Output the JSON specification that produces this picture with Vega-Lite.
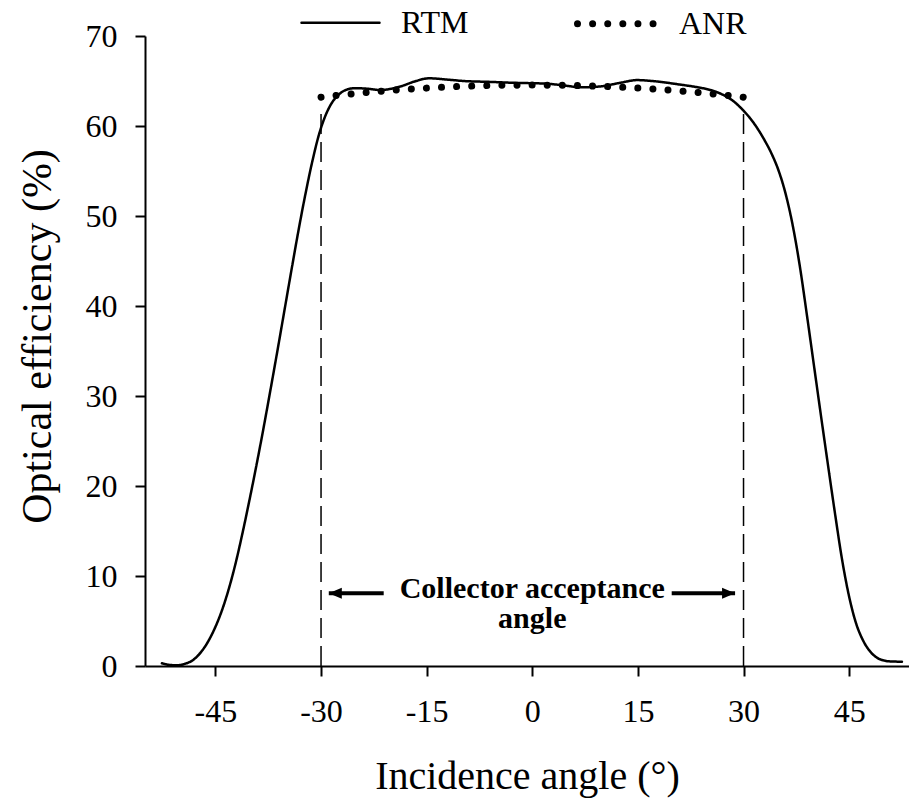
{
  "$schema": "https://vega.github.io/schema/vega-lite/v6.json",
  "width": 764,
  "height": 630,
  "autosize": {"type": "none"},
  "padding": {"left": 145, "top": 36, "right": 0, "bottom": 143},
  "background": "white",
  "config": {
    "view": {"stroke": null},
    "font": "Liberation Serif",
    "axis": {
      "domainColor": "black",
      "domainWidth": 2,
      "tickColor": "black",
      "tickWidth": 2,
      "tickSize": 10,
      "grid": false,
      "labelFont": "Liberation Serif",
      "labelFontSize": 32,
      "labelColor": "black",
      "titleFont": "Liberation Serif",
      "titleFontSize": 40,
      "titleFontWeight": "normal",
      "titleColor": "black"
    },
    "legend": {
      "labelFont": "Liberation Serif",
      "labelFontSize": 32,
      "labelColor": "black"
    }
  },
  "datasets": {
    "curves": [
      {"series": "RTM", "angle": -52.6, "efficiency": 0.3},
      {"series": "RTM", "angle": -51.5, "efficiency": 0.12},
      {"series": "RTM", "angle": -50.4, "efficiency": 0.08},
      {"series": "RTM", "angle": -49.3, "efficiency": 0.25},
      {"series": "RTM", "angle": -48.2, "efficiency": 0.65},
      {"series": "RTM", "angle": -47.2, "efficiency": 1.4},
      {"series": "RTM", "angle": -46.2, "efficiency": 2.5},
      {"series": "RTM", "angle": -45.2, "efficiency": 4.0},
      {"series": "RTM", "angle": -44.2, "efficiency": 5.9},
      {"series": "RTM", "angle": -43.2, "efficiency": 8.3},
      {"series": "RTM", "angle": -42.2, "efficiency": 11.2},
      {"series": "RTM", "angle": -41.2, "efficiency": 14.6},
      {"series": "RTM", "angle": -40.2, "efficiency": 18.3},
      {"series": "RTM", "angle": -39.2, "efficiency": 22.2},
      {"series": "RTM", "angle": -38.2, "efficiency": 26.3},
      {"series": "RTM", "angle": -37.2, "efficiency": 30.6},
      {"series": "RTM", "angle": -36.2, "efficiency": 35.0},
      {"series": "RTM", "angle": -35.2, "efficiency": 39.5},
      {"series": "RTM", "angle": -34.2, "efficiency": 44.0},
      {"series": "RTM", "angle": -33.2, "efficiency": 48.4},
      {"series": "RTM", "angle": -32.2, "efficiency": 52.5},
      {"series": "RTM", "angle": -31.2, "efficiency": 56.2},
      {"series": "RTM", "angle": -30.2, "efficiency": 59.3},
      {"series": "RTM", "angle": -29.4, "efficiency": 61.1},
      {"series": "RTM", "angle": -28.6, "efficiency": 62.4},
      {"series": "RTM", "angle": -27.6, "efficiency": 63.4},
      {"series": "RTM", "angle": -26.5, "efficiency": 64.0},
      {"series": "RTM", "angle": -25.2, "efficiency": 64.2},
      {"series": "RTM", "angle": -23.5, "efficiency": 64.15},
      {"series": "RTM", "angle": -21.6, "efficiency": 64.0},
      {"series": "RTM", "angle": -18.7, "efficiency": 64.4},
      {"series": "RTM", "angle": -16.5, "efficiency": 65.0},
      {"series": "RTM", "angle": -14.7, "efficiency": 65.3},
      {"series": "RTM", "angle": -12.0, "efficiency": 65.15},
      {"series": "RTM", "angle": -9.75, "efficiency": 65.0},
      {"series": "RTM", "angle": -6.0, "efficiency": 64.9},
      {"series": "RTM", "angle": -2.65, "efficiency": 64.8},
      {"series": "RTM", "angle": 2.1, "efficiency": 64.7},
      {"series": "RTM", "angle": 5.0, "efficiency": 64.45},
      {"series": "RTM", "angle": 6.8, "efficiency": 64.3},
      {"series": "RTM", "angle": 9.7, "efficiency": 64.4},
      {"series": "RTM", "angle": 12.5, "efficiency": 64.8},
      {"series": "RTM", "angle": 14.9, "efficiency": 65.1},
      {"series": "RTM", "angle": 17.0, "efficiency": 65.0},
      {"series": "RTM", "angle": 21.0, "efficiency": 64.6},
      {"series": "RTM", "angle": 23.5, "efficiency": 64.3},
      {"series": "RTM", "angle": 25.3, "efficiency": 64.0},
      {"series": "RTM", "angle": 27.0, "efficiency": 63.5},
      {"series": "RTM", "angle": 28.5, "efficiency": 62.8},
      {"series": "RTM", "angle": 30.0, "efficiency": 61.7},
      {"series": "RTM", "angle": 31.0, "efficiency": 60.8},
      {"series": "RTM", "angle": 32.0, "efficiency": 59.7},
      {"series": "RTM", "angle": 33.0, "efficiency": 58.4},
      {"series": "RTM", "angle": 34.0, "efficiency": 56.9},
      {"series": "RTM", "angle": 35.0, "efficiency": 55.0},
      {"series": "RTM", "angle": 36.0, "efficiency": 52.4},
      {"series": "RTM", "angle": 37.0, "efficiency": 48.9},
      {"series": "RTM", "angle": 38.0, "efficiency": 44.4},
      {"series": "RTM", "angle": 39.0, "efficiency": 39.0},
      {"series": "RTM", "angle": 40.0, "efficiency": 33.4},
      {"series": "RTM", "angle": 41.0, "efficiency": 27.8},
      {"series": "RTM", "angle": 42.0, "efficiency": 22.3},
      {"series": "RTM", "angle": 43.0, "efficiency": 16.9},
      {"series": "RTM", "angle": 44.0, "efficiency": 11.8},
      {"series": "RTM", "angle": 45.0, "efficiency": 7.7},
      {"series": "RTM", "angle": 46.0, "efficiency": 4.7},
      {"series": "RTM", "angle": 47.0, "efficiency": 2.8},
      {"series": "RTM", "angle": 48.0, "efficiency": 1.6},
      {"series": "RTM", "angle": 49.0, "efficiency": 0.9},
      {"series": "RTM", "angle": 50.0, "efficiency": 0.6},
      {"series": "RTM", "angle": 51.0, "efficiency": 0.5},
      {"series": "RTM", "angle": 52.5, "efficiency": 0.48},
      {"series": "ANR", "angle": -30.0, "efficiency": 63.2},
      {"series": "ANR", "angle": -27.86, "efficiency": 63.39},
      {"series": "ANR", "angle": -25.71, "efficiency": 63.56},
      {"series": "ANR", "angle": -23.57, "efficiency": 63.72},
      {"series": "ANR", "angle": -21.43, "efficiency": 63.86},
      {"series": "ANR", "angle": -19.29, "efficiency": 63.99},
      {"series": "ANR", "angle": -17.14, "efficiency": 64.11},
      {"series": "ANR", "angle": -15.0, "efficiency": 64.21},
      {"series": "ANR", "angle": -12.86, "efficiency": 64.3},
      {"series": "ANR", "angle": -10.71, "efficiency": 64.38},
      {"series": "ANR", "angle": -8.57, "efficiency": 64.44},
      {"series": "ANR", "angle": -6.43, "efficiency": 64.49},
      {"series": "ANR", "angle": -4.29, "efficiency": 64.52},
      {"series": "ANR", "angle": -2.14, "efficiency": 64.54},
      {"series": "ANR", "angle": 0.0, "efficiency": 64.55},
      {"series": "ANR", "angle": 2.14, "efficiency": 64.54},
      {"series": "ANR", "angle": 4.29, "efficiency": 64.52},
      {"series": "ANR", "angle": 6.43, "efficiency": 64.49},
      {"series": "ANR", "angle": 8.57, "efficiency": 64.44},
      {"series": "ANR", "angle": 10.71, "efficiency": 64.38},
      {"series": "ANR", "angle": 12.86, "efficiency": 64.3},
      {"series": "ANR", "angle": 15.0, "efficiency": 64.21},
      {"series": "ANR", "angle": 17.14, "efficiency": 64.11},
      {"series": "ANR", "angle": 19.29, "efficiency": 63.99},
      {"series": "ANR", "angle": 21.43, "efficiency": 63.86},
      {"series": "ANR", "angle": 23.57, "efficiency": 63.72},
      {"series": "ANR", "angle": 25.71, "efficiency": 63.56},
      {"series": "ANR", "angle": 27.86, "efficiency": 63.39},
      {"series": "ANR", "angle": 30.0, "efficiency": 63.2}
    ],
    "guides": [
      {"angle": -30, "low": 0, "high": 62.2},
      {"angle": 30, "low": 0, "high": 61.8}
    ],
    "arrows": [
      {"dir": "left", "tip": -28.9, "end": -21.1, "level": 8.08},
      {"dir": "right", "tip": 28.8, "end": 19.8, "level": 8.08}
    ],
    "notes": [
      {"angle": 0, "level": 7.56, "label": "Collector acceptance"},
      {"angle": 0, "level": 4.2, "label": "angle"}
    ]
  },
  "layer": [
    {
      "data": {"name": "guides"},
      "mark": {"type": "rule", "color": "black", "strokeWidth": 1.5, "strokeDash": [20, 8]},
      "encoding": {
        "x": {
          "field": "angle", "type": "quantitative",
          "scale": {"domain": [-55, 53.5], "nice": false, "zero": false},
          "axis": {
            "title": "Incidence angle (°)",
            "values": [-45, -30, -15, 0, 15, 30, 45],
            "labelExpr": "toString(datum.value)",
            "labelPadding": 20,
            "titleBaseline": "alphabetic",
            "titleY": 122
          }
        },
        "y": {
          "field": "low", "type": "quantitative",
          "scale": {"domain": [0, 70], "nice": false},
          "axis": {
            "title": "Optical efficiency (%)",
            "values": [0, 10, 20, 30, 40, 50, 60, 70],
            "labelPadding": 18,
            "titleFontSize": 42,
            "titleX": -108,
            "titleY": 300,
            "titleAngle": -90,
            "titleBaseline": "middle",
            "titleAlign": "center"
          }
        },
        "y2": {"field": "high"}
      }
    },
    {
      "data": {"name": "curves"},
      "mark": {"type": "line", "color": "black", "strokeCap": "round", "interpolate": "monotone"},
      "encoding": {
        "x": {"field": "angle", "type": "quantitative"},
        "y": {"field": "efficiency", "type": "quantitative"},
        "strokeDash": {
          "field": "series", "type": "nominal",
          "scale": {"domain": ["RTM", "ANR"], "range": [[1, 0], [0.01, 15.1]]},
          "legend": {
            "title": null,
            "orient": "none",
            "legendX": 155,
            "legendY": -55,
            "direction": "horizontal",
            "symbolType": "stroke",
            "symbolSize": 6084,
            "symbolStrokeColor": "black",
            "labelOffset": 20,
            "columnPadding": 94,
            "encoding": {"symbols": {"strokeCap": {"value": "round"}}}
          }
        },
        "strokeWidth": {
          "field": "series", "type": "nominal",
          "scale": {"type": "ordinal", "domain": ["RTM", "ANR"], "range": [2.5, 7]}
        }
      }
    },
    {
      "data": {"name": "arrows"},
      "mark": {"type": "rule", "color": "black", "strokeWidth": 4},
      "encoding": {
        "x": {"field": "tip", "type": "quantitative"},
        "x2": {"field": "end"},
        "y": {"field": "level", "type": "quantitative"}
      }
    },
    {
      "data": {"name": "arrows"},
      "mark": {"type": "point", "filled": true, "color": "black", "opacity": 1, "size": 169},
      "encoding": {
        "x": {"field": "tip", "type": "quantitative"},
        "y": {"field": "level", "type": "quantitative"},
        "shape": {
          "field": "dir", "type": "nominal",
          "scale": {"domain": ["left", "right"], "range": ["M0,0L2,-0.85L2,0.85Z", "M0,0L-2,-0.85L-2,0.85Z"]},
          "legend": null
        }
      }
    },
    {
      "data": {"name": "notes"},
      "mark": {"type": "text", "color": "black", "font": "Liberation Serif", "fontWeight": "bold", "fontSize": 30, "align": "center", "baseline": "alphabetic"},
      "encoding": {
        "x": {"field": "angle", "type": "quantitative"},
        "y": {"field": "level", "type": "quantitative"},
        "text": {"field": "label", "type": "nominal"}
      }
    }
  ]
}
